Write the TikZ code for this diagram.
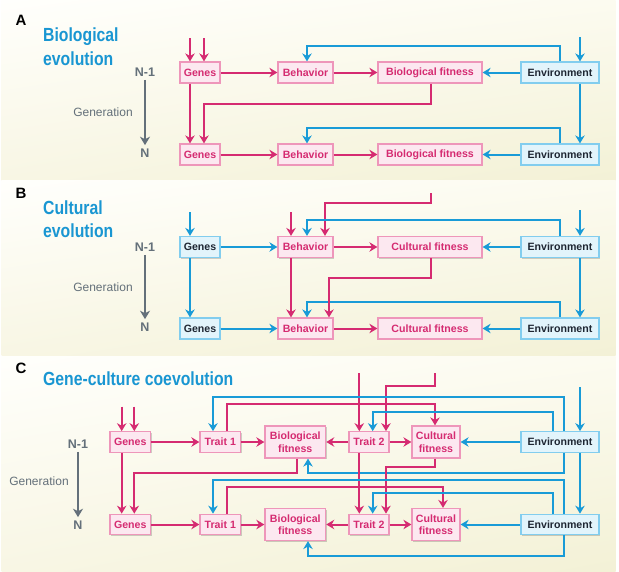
\documentclass[tikz,border=0pt]{standalone}
\usepackage{fontspec}
\setmainfont{Liberation Sans}
\newfontfamily\titlefont[FakeStretch=0.83]{Liberation Sans}
\usetikzlibrary{arrows.meta,shadows,shadings}
\definecolor{pk}{RGB}{213,43,113}
\definecolor{pkf}{RGB}{252,232,240}
\definecolor{pkb}{RGB}{238,150,186}
\definecolor{bl}{RGB}{25,155,215}
\definecolor{blf}{RGB}{226,244,251}
\definecolor{blb}{RGB}{130,205,238}
\definecolor{ttl}{RGB}{25,150,210}
\definecolor{gr}{RGB}{100,112,122}
\definecolor{envt}{RGB}{30,38,50}
\definecolor{bgul}{RGB}{255,255,252}
\definecolor{bgur}{RGB}{252,251,240}
\definecolor{bgll}{RGB}{248,246,228}
\definecolor{bglr}{RGB}{243,241,214}
\tikzset{
  boxbase/.style={line width=1.2pt, inner sep=0pt, align=center,
    font=\fontsize{10.6}{12.5}\selectfont\bfseries,
    drop shadow={shadow xshift=1.2pt, shadow yshift=-1.2pt, opacity=0.18, fill=black}},
  pbox/.style={boxbase, draw=pkb, fill=pkf, text=pk},
  bbox/.style={boxbase, draw=blb, fill=blf, text=envt},
  tip/.style={-{Stealth[length=8pt,width=9.5pt,inset=2.6pt]}},
  pa/.style={draw=pk, line width=2pt, tip},
  ba/.style={draw=bl, line width=2pt, tip},
  ga/.style={draw=gr, line width=2.8pt, -{Stealth[length=8.5pt,width=10pt,inset=2.6pt]}},
  gtxt/.style={text=gr, font=\fontsize{12}{12}\selectfont},
  ntxt/.style={text=gr, font=\fontsize{12.5}{12.5}\selectfont\bfseries},
  ltr/.style={text=black, font=\fontsize{15}{15}\selectfont\bfseries},
  ttlsty/.style={anchor=base west, inner sep=0pt, text=ttl, font=\titlefont\fontsize{19}{19}\selectfont\bfseries},
  panelbg/.style={upper left=bgul, upper right=bgur, lower left=bgll, lower right=bglr}
}
\begin{document}
\begin{tikzpicture}[x=1pt,y=-1pt]
\useasboundingbox (0,0) rectangle (619,571);
\fill[white] (0,0) rectangle (619,571);
\shade[panelbg] (1.5,0) rectangle (615.5,180);
\shade[panelbg] (1.5,180.5) rectangle (615.5,355.5);
\shade[panelbg] (1.5,356) rectangle (615.5,571);

% ---------------- Panel A ----------------
\node[ltr] (lA) at (21,20) {A};
\node[ttlsty] (tA1) at (43,41) {Biological};
\node[ttlsty] (tA2) at (43,65.5) {evolution};
\node[ntxt] (nA1) at (145,72) {N-1};
\node[ntxt] (nA2) at (145,153) {N};
\node[gtxt] (genA) at (103,112.5) {Generation};
\draw[ga] (nA1.south) -- (nA2.north);

\node[pbox, minimum width=40, minimum height=21] (gA1) at (200,72.5) {Genes};
\node[pbox, minimum width=55, minimum height=21] (bA1) at (305.5,72.5) {Behavior};
\node[pbox, minimum width=104, minimum height=21] (fA1) at (430,72.5) {Biological fitness};
\node[bbox, minimum width=78, minimum height=21] (eA1) at (560,72.5) {Environment};
\node[pbox, minimum width=40, minimum height=21] (gA2) at (200,154.5) {Genes};
\node[pbox, minimum width=55, minimum height=21] (bA2) at (305.5,154.5) {Behavior};
\node[pbox, minimum width=104, minimum height=21] (fA2) at (430,154.5) {Biological fitness};
\node[bbox, minimum width=78, minimum height=21] (eA2) at (560,154.5) {Environment};

\coordinate (iA1) at (190,38);
\coordinate (iA2) at (204,38);
\coordinate (iA3) at (580,37);
\draw[pa] (iA1) -- (190,0 |- gA1.north);
\draw[pa] (iA2) -- (204,0 |- gA1.north);
\draw[ba] (iA3) -- (580,0 |- eA1.north);
\draw[pa] (gA1) -- (bA1);
\draw[pa] (bA1) -- (fA1);
\draw[ba] (eA1) -- (fA1);
\draw[ba] (560,0 |- eA1.north) |- (307,46) -- (307,0 |- bA1.north);
\draw[ba] (580,0 |- eA1.south) -- (580,0 |- eA2.north);
\draw[pa] (190,0 |- gA1.south) -- (190,0 |- gA2.north);
\draw[pa] (431,0 |- fA1.south) |- (204,104) -- (204,0 |- gA2.north);
\draw[ba] (560,0 |- eA2.north) |- (307,128) -- (307,0 |- bA2.north);
\draw[pa] (gA2) -- (bA2);
\draw[pa] (bA2) -- (fA2);
\draw[ba] (eA2) -- (fA2);

% ---------------- Panel B ----------------
\node[ltr] (lB) at (21,193) {B};
\node[ttlsty] (tB1) at (43,214.3) {Cultural};
\node[ttlsty] (tB2) at (43,237.3) {evolution};
\node[ntxt] (nB1) at (145,247) {N-1};
\node[ntxt] (nB2) at (145,327) {N};
\node[gtxt] (genB) at (103,287) {Generation};
\draw[ga] (nB1.south) -- (nB2.north);

\node[bbox, minimum width=40, minimum height=21] (gB1) at (200,247) {Genes};
\node[pbox, minimum width=55, minimum height=21] (bB1) at (305.5,247) {Behavior};
\node[pbox, minimum width=104, minimum height=21] (fB1) at (430,247) {Cultural fitness};
\node[bbox, minimum width=78, minimum height=21] (eB1) at (560,247) {Environment};
\node[bbox, minimum width=40, minimum height=21] (gB2) at (200,328.5) {Genes};
\node[pbox, minimum width=55, minimum height=21] (bB2) at (305.5,328.5) {Behavior};
\node[pbox, minimum width=104, minimum height=21] (fB2) at (430,328.5) {Cultural fitness};
\node[bbox, minimum width=78, minimum height=21] (eB2) at (560,328.5) {Environment};

\coordinate (iB1) at (190,212);
\coordinate (iB2) at (291,212);
\coordinate (iB3) at (431,193);
\coordinate (iB4) at (580,210);
\draw[ba] (iB1) -- (190,0 |- gB1.north);
\draw[pa] (iB2) -- (291,0 |- bB1.north);
\draw[pa] (iB3) |- (325,203) -- (325,0 |- bB1.north);
\draw[ba] (iB4) -- (580,0 |- eB1.north);
\draw[ba] (560,0 |- eB1.north) |- (307,220) -- (307,0 |- bB1.north);
\draw[ba] (gB1) -- (bB1);
\draw[pa] (bB1) -- (fB1);
\draw[ba] (eB1) -- (fB1);
\draw[ba] (580,0 |- eB1.south) -- (580,0 |- eB2.north);
\draw[ba] (190,0 |- gB1.south) -- (190,0 |- gB2.north);
\draw[pa] (291,0 |- bB1.south) -- (291,0 |- bB2.north);
\draw[ba] (560,0 |- eB2.north) |- (307,302) -- (307,0 |- bB2.north);
\draw[pa] (431,0 |- fB1.south) |- (329,278) -- (329,0 |- bB2.north);
\draw[ba] (gB2) -- (bB2);
\draw[pa] (bB2) -- (fB2);
\draw[ba] (eB2) -- (fB2);

% ---------------- Panel C ----------------
\node[ltr] (lC) at (21,368) {C};
\node[ttlsty] (tC) at (43,385.7) {Gene-culture coevolution};
\node[ntxt] (nC1) at (78,444) {N-1};
\node[ntxt] (nC2) at (78,525) {N};
\node[gtxt] (genC) at (39,481) {Generation};
\draw[ga] (nC1.south) -- (nC2.north);

\node[pbox, minimum width=40.7, minimum height=20.5] (gC1) at (130.3,442) {Genes};
\node[pbox, minimum width=40.7, minimum height=20.5] (tC1) at (220.3,442) {Trait 1};
\node[pbox, minimum width=60.7, minimum height=32] (fC1) at (295.3,442) {Biological\\fitness};
\node[pbox, minimum width=40, minimum height=20.5] (sC1) at (369,442) {Trait 2};
\node[pbox, minimum width=48, minimum height=32] (cC1) at (436,442) {Cultural\\fitness};
\node[bbox, minimum width=78, minimum height=20.5] (eC1) at (560,442) {Environment};
\node[pbox, minimum width=40.7, minimum height=20.5] (gC2) at (130.3,524.5) {Genes};
\node[pbox, minimum width=40.7, minimum height=20.5] (tC2) at (220.3,524.5) {Trait 1};
\node[pbox, minimum width=60.7, minimum height=32] (fC2) at (295.3,524.5) {Biological\\fitness};
\node[pbox, minimum width=40, minimum height=20.5] (sC2) at (369,524.5) {Trait 2};
\node[pbox, minimum width=48, minimum height=32] (cC2) at (436,524.5) {Cultural\\fitness};
\node[bbox, minimum width=78, minimum height=20.5] (eC2) at (560,524.5) {Environment};

\coordinate (iC1) at (121.7,406.7);
\coordinate (iC2) at (134.3,406.7);
\coordinate (iC3) at (359.3,373);
\coordinate (iC4) at (435,373);
\coordinate (iC5) at (580,387);
\draw[pa] (iC1) -- (121.7,0 |- gC1.north);
\draw[pa] (iC2) -- (134.3,0 |- gC1.north);
\draw[pa] (iC3) -- (359.3,0 |- sC1.north);
\draw[pa] (iC4) |- (386,385.7) -- (386,0 |- sC1.north);
\draw[ba] (iC5) -- (580,0 |- eC1.north);
% row 1 loops
\draw[ba] (564,0 |- eC1.north) |- (213,397) -- (213,0 |- tC1.north);
\draw[pa] (226.7,0 |- tC1.north) |- (435,404.3) -- (435,0 |- cC1.north);
\draw[ba] (552.7,0 |- eC1.north) |- (372.7,411.7) -- (372.7,0 |- sC1.north);
\draw[pa] (gC1) -- (tC1);
\draw[pa] (tC1) -- (fC1);
\draw[pa] (sC1) -- (fC1);
\draw[pa] (sC1) -- (cC1);
\draw[ba] (eC1) -- (cC1);
% between generations
\draw[ba] (564,0 |- eC1.south) |- (308,473.3) -- (308,0 |- fC1.south);
\draw[pa] (296.7,0 |- fC1.south) |- (134.3,473.3) -- (134.3,0 |- gC2.north);
\draw[pa] (121.7,0 |- gC1.south) -- (121.7,0 |- gC2.north);
\draw[pa] (359.3,0 |- sC1.south) -- (359.3,0 |- sC2.north);
\draw[pa] (435,0 |- cC1.south) |- (386,466.7) -- (386,0 |- sC2.north);
\draw[ba] (580,0 |- eC1.south) -- (580,0 |- eC2.north);
% row 2 loops
\draw[ba] (564,0 |- eC2.north) |- (213,480) -- (213,0 |- tC2.north);
\draw[pa] (226.7,0 |- tC2.north) |- (443,487.3) -- (443,0 |- cC2.north);
\draw[ba] (552.7,0 |- eC2.north) |- (372.7,493.3) -- (372.7,0 |- sC2.north);
\draw[ba] (564,0 |- eC2.south) |- (308,556) -- (308,0 |- fC2.south);
\draw[pa] (gC2) -- (tC2);
\draw[pa] (tC2) -- (fC2);
\draw[pa] (sC2) -- (fC2);
\draw[pa] (sC2) -- (cC2);
\draw[ba] (eC2) -- (cC2);
\end{tikzpicture}
\end{document}
